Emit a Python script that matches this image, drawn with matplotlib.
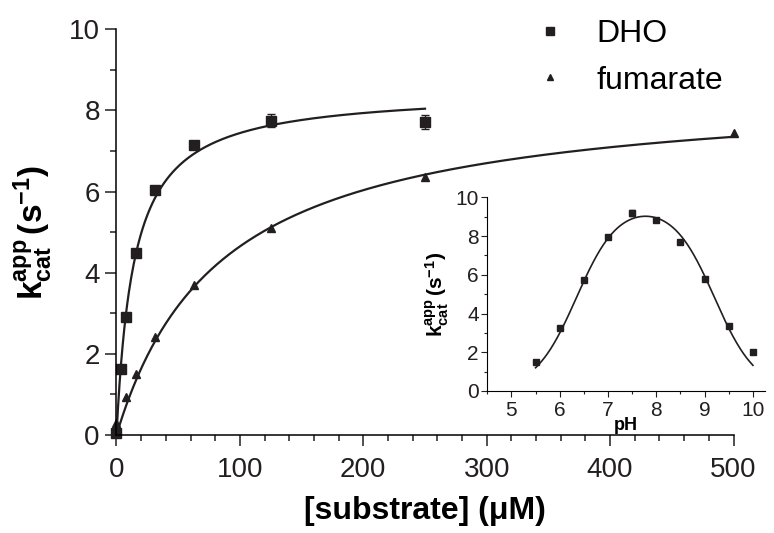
import numpy as np
import matplotlib
matplotlib.use('Agg')
import matplotlib.pyplot as plt
from matplotlib.ticker import MultipleLocator

plt.rcParams['font.family'] = ['Liberation Sans', 'DejaVu Sans']
plt.rcParams['mathtext.fontset'] = 'custom'
plt.rcParams['mathtext.rm'] = 'Liberation Sans'
plt.rcParams['mathtext.bf'] = 'Liberation Sans:bold'
plt.rcParams['mathtext.it'] = 'Liberation Sans:italic'

#=========================================================================
# data

# DHO (squares)
dho_conc = [0, 3.9, 7.8, 15.6, 31.25, 62.5, 125, 250]
dho_kcat = [0.04, 1.63, 2.90, 4.48, 6.04, 7.15, 7.75, 7.72]
dho_err = [0.02, 0.04, 0.04, 0.05, 0.06, 0.10, 0.16, 0.17]

# fumarate (triangles)
fum_conc = [0, 7.8, 15.6, 31.25, 62.5, 125, 250, 500]
fum_kcat = [0.29, 0.93, 1.50, 2.42, 3.70, 5.09, 6.35, 7.45]

# Michaelis-Menten fit parameters (Vmax, Km)
dho_fit = (8.5, 14.2)
fum_fit = (8.6, 85.0)

# inset: pH profile
ph = [5.5, 6.0, 6.5, 7.0, 7.5, 8.0, 8.5, 9.0, 9.5, 10.0]
ph_kcat = [1.51, 3.27, 5.73, 7.95, 9.17, 8.83, 7.71, 5.77, 3.36, 2.03]
ph_err = [0.05, 0.05, 0.05, 0.05, 0.15, 0.10, 0.05, 0.05, 0.05, 0.05]

# two-pKa bell fit (kmax, pKa1, pKa2)
ph_fit = (9.7, 6.35, 9.2)

#=========================================================================

def mm(s, vmax, km):
    return vmax * s / (km + s)

def bell(p, kmax, pka1, pka2):
    return kmax / (1 + 10 ** (pka1 - p) + 10 ** (p - pka2))

def style_axes(ax, lw, maj, mnr, size, xpad, ypad):
    for side in ('top', 'right'):
        ax.spines[side].set_visible(False)
    for side in ('left', 'bottom'):
        ax.spines[side].set_linewidth(lw)
    ax.tick_params(which='major', direction='out', length=maj, width=lw,
                   labelsize=size, colors='#231f20')
    ax.tick_params(which='minor', direction='out', length=mnr, width=lw,
                   colors='#231f20')
    ax.tick_params(axis='x', which='major', pad=xpad)
    ax.tick_params(axis='y', which='major', pad=ypad)

#=========================================================================

ink = '#231f20'
fig = plt.figure(figsize=(7.74, 5.33), dpi=100)
ax = fig.add_axes([0.1505, 0.1839, 0.7972, 0.7611])

s_dho = np.linspace(0, 250, 400)
s_fum = np.linspace(0, 500, 400)
ax.plot(s_dho, mm(s_dho, *dho_fit), color=ink, lw=1.6)
ax.plot(s_fum, mm(s_fum, *fum_fit), color=ink, lw=1.6)

ax.errorbar(dho_conc, dho_kcat, yerr=dho_err, fmt='none', ecolor=ink,
            capsize=3, elinewidth=1, clip_on=False)
h_dho, = ax.plot(dho_conc, dho_kcat, 's', ms=7, color=ink, clip_on=False,
                 label='DHO')
h_fum, = ax.plot(fum_conc, fum_kcat, '^', ms=5.5, color=ink, clip_on=False,
                 label='fumarate')

ax.set_xlim(0, 500)
ax.set_ylim(0, 10)
ax.xaxis.set_major_locator(MultipleLocator(100))
ax.xaxis.set_minor_locator(MultipleLocator(20))
ax.yaxis.set_major_locator(MultipleLocator(2))
ax.yaxis.set_minor_locator(MultipleLocator(1))
style_axes(ax, 1.1, 8, 4.5, 20, 8, 4)

ax.set_xlabel('[substrate] (\u03bcM)', fontsize=23, fontweight='bold',
              labelpad=9)
ax.set_ylabel(r'$\mathbf{k_{cat}^{app}\,(s^{-1})}$', fontsize=24, labelpad=10)

leg = ax.legend([h_dho, h_fum], ['DHO', 'fumarate'], loc='upper left',
                bbox_to_anchor=(534 / 774, 1 - 19 / 533),
                bbox_transform=fig.transFigure, frameon=False, fontsize=23,
                handlelength=1.0, handletextpad=0.95, labelspacing=0.52,
                borderpad=0, borderaxespad=0, markerscale=0.8)

#=========================================================================
# inset

axi = fig.add_axes([487.3 / 774, 1 - 391 / 533, (765 - 487.3) / 774,
                    (391 - 197.3) / 533])
p_fit = np.linspace(5.5, 10, 300)
axi.plot(p_fit, bell(p_fit, *ph_fit), color=ink, lw=1.2)
axi.errorbar(ph, ph_kcat, yerr=ph_err, fmt='s', ms=4.5, color=ink,
             capsize=2, elinewidth=0.8, clip_on=False)

axi.set_xlim(4.5, 10.25)
axi.set_ylim(0, 10)
axi.xaxis.set_major_locator(MultipleLocator(1))
axi.xaxis.set_minor_locator(MultipleLocator(0.5))
axi.yaxis.set_major_locator(MultipleLocator(2))
axi.yaxis.set_minor_locator(MultipleLocator(1))
style_axes(axi, 0.8, 4, 2.5, 15, 3, 2)

axi.set_xlabel('pH', fontsize=13, fontweight='bold', labelpad=-2)
axi.set_ylabel(r'$\mathbf{k_{cat}^{app}\,(s^{-1})}$', fontsize=15, labelpad=3)

fig.savefig('out.png', dpi=100)
